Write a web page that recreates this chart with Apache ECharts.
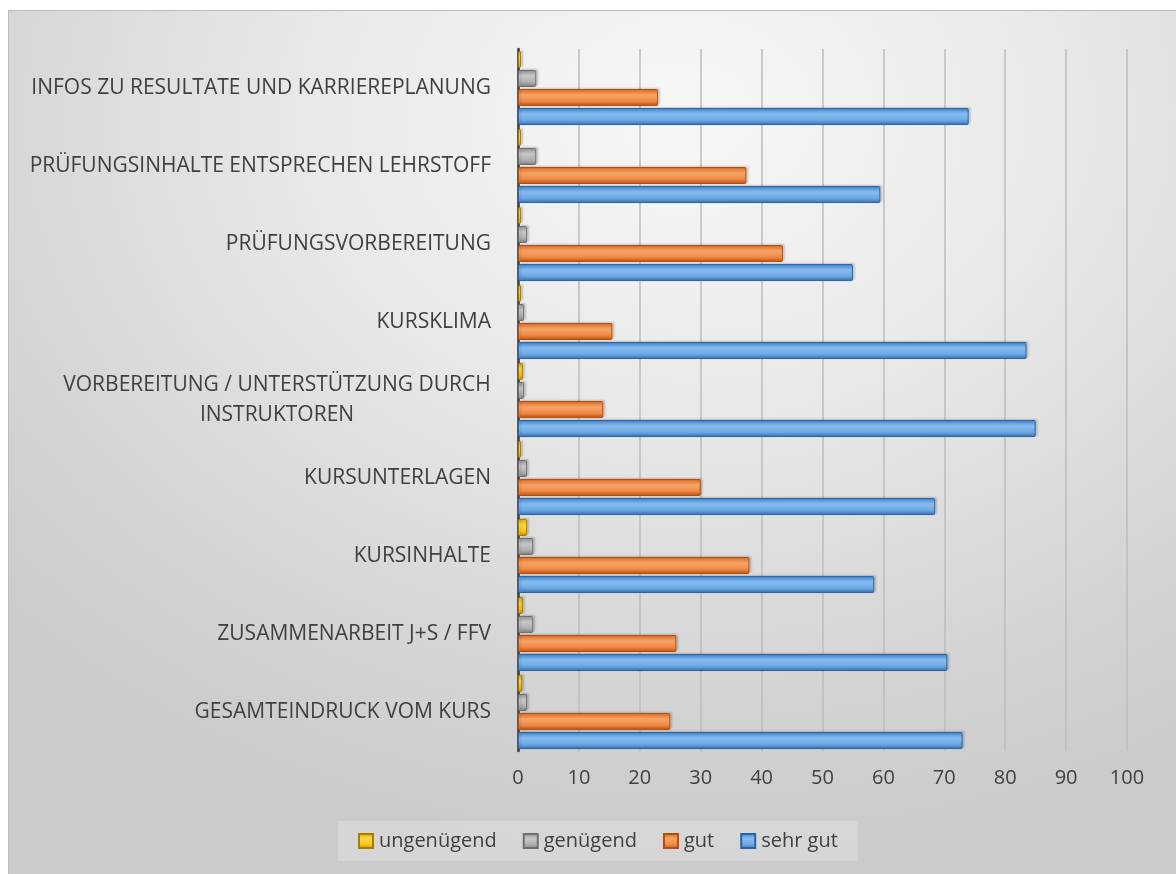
<!DOCTYPE html>
<html><head><meta charset="utf-8">
<script src="https://cdn.jsdelivr.net/npm/echarts@6/dist/echarts.min.js"></script>
<style>
html,body{margin:0;padding:0;background:#fff;width:1176px;height:874px;overflow:hidden;}
#wrap{position:absolute;left:8px;top:10px;width:1168px;height:864px;border-left:1px solid #bdbdbd;border-top:1px solid #bdbdbd;box-sizing:border-box;
background:radial-gradient(ellipse 80% 85% at 58% 12%, #f7f7f7 0%, #e9e9e9 40%, #d6d6d6 75%, #cbcbcb 100%);}
#chart{position:absolute;left:0;top:0;width:1167px;height:863px;}
</style></head><body><div id="wrap"><div id="chart"></div></div>
<script>
// Categories listed bottom to top (as ECharts category y-axis draws them)
const categories = [
  'GESAMTEINDRUCK VOM KURS',
  'ZUSAMMENARBEIT J+S / FFV',
  'KURSINHALTE',
  'KURSUNTERLAGEN',
  'VORBEREITUNG / UNTERSTÜTZUNG DURCH\nINSTRUKTOREN',
  'KURSKLIMA',
  'PRÜFUNGSVORBEREITUNG',
  'PRÜFUNGSINHALTE ENTSPRECHEN LEHRSTOFF',
  'INFOS ZU RESULTATE UND KARRIEREPLANUNG'
];
const seriesNames = ['ungenügend', 'genügend', 'gut', 'sehr gut'];
const ungenuegend = [0.7, 0.8, 1.5, 0.5, 0.8, 0.5, 0.5, 0.5, 0.5];
const genuegend   = [1.5, 2.5, 2.5, 1.5, 1, 1, 1.5, 3, 3];
const gut         = [25, 26, 38, 30, 14, 15.5, 43.5, 37.5, 23];
const sehrGut     = [73, 70.5, 58.5, 68.5, 85, 83.5, 55, 59.5, 74];
const xTicks = [0, 10, 20, 30, 40, 50, 60, 70, 80, 90, 100];

const FONT = '"Open Sans", "Liberation Sans", sans-serif';
const LABEL_SIZE = 21;

// measure widest line of multi-line category labels for centered rich text
const cvs = document.createElement('canvas').getContext('2d');
cvs.font = LABEL_SIZE + 'px "Open Sans"';
let maxLineW = 0;
categories.forEach(c => {
  if (c.indexOf('\n') >= 0) c.split('\n').forEach(l => { maxLineW = Math.max(maxLineW, cvs.measureText(l).width); });
});

function grad(c0, c1, c2, c3) {
  return new echarts.graphic.LinearGradient(0, 0, 0, 1, [
    {offset: 0, color: c0}, {offset: 0.35, color: c1}, {offset: 0.7, color: c2}, {offset: 1, color: c3}
  ]);
}
const styles = [
  {color: grad('#d9a400', '#ffd84a', '#ffc61a', '#c79500'), borderColor: '#a67c00'},
  {color: grad('#8e8e8e', '#c8c8c8', '#b0b0b0', '#878787'), borderColor: '#6f6f6f'},
  {color: grad('#d8651e', '#f7a468', '#f08b47', '#c95812'), borderColor: '#b44f10'},
  {color: grad('#3f80c6', '#86bdf0', '#6ea9e4', '#3a78bd'), borderColor: '#2a63a3'}
];
const dataSets = [ungenuegend, genuegend, gut, sehrGut];

const chart = echarts.init(document.getElementById('chart'), null, {renderer: 'canvas'});
chart.setOption({
  backgroundColor: 'transparent',
  animation: false,
  textStyle: {fontFamily: FONT},
  grid: {left: 509, right: 49, top: 38, bottom: 123, containLabel: false},
  legend: {
    data: seriesNames,
    left: 329,
    top: 810,
    itemWidth: 14, itemHeight: 14, itemGap: 26,
    padding: [10, 20],
    backgroundColor: 'rgba(255,255,255,0.22)',
    textStyle: {fontSize: 20, color: '#404040', fontFamily: FONT, padding: [0, 0, 0, 1]},
    icon: 'rect'
  },
  xAxis: {
    type: 'value', min: xTicks[0], max: xTicks[xTicks.length - 1], interval: 10,
    axisLine: {show: false}, axisTick: {show: false},
    axisLabel: {fontSize: 20, color: '#404040', margin: 17, fontFamily: FONT},
    splitLine: {show: true, lineStyle: {color: '#bcbcbc', width: 1.5}}
  },
  yAxis: {
    type: 'category', data: categories,
    axisLine: {show: true, lineStyle: {color: '#3a3a3a', width: 2.5}},
    axisTick: {show: false},
    splitLine: {show: false},
    axisLabel: {
      interval: 0, fontSize: LABEL_SIZE, color: '#404040', margin: 27, fontFamily: FONT,
      formatter: function (v) {
        if (v.indexOf('\n') < 0) return v;
        return v.split('\n').map(l => '{c|' + l + '}').join('\n');
      },
      rich: {c: {width: Math.ceil(maxLineW), align: 'center', fontSize: LABEL_SIZE, lineHeight: 30, color: '#404040', fontFamily: FONT}}
    }
  },
  series: seriesNames.map((n, i) => ({
    name: n, type: 'bar', data: dataSets[i],
    barWidth: 17, barGap: '12%',
    itemStyle: {color: styles[i].color, borderColor: styles[i].borderColor, borderWidth: 1, borderRadius: 1,
      shadowColor: 'rgba(0,0,0,0.15)', shadowOffsetX: 2, shadowOffsetY: -1, shadowBlur: 2}
  }))
});
</script>
</body></html>
